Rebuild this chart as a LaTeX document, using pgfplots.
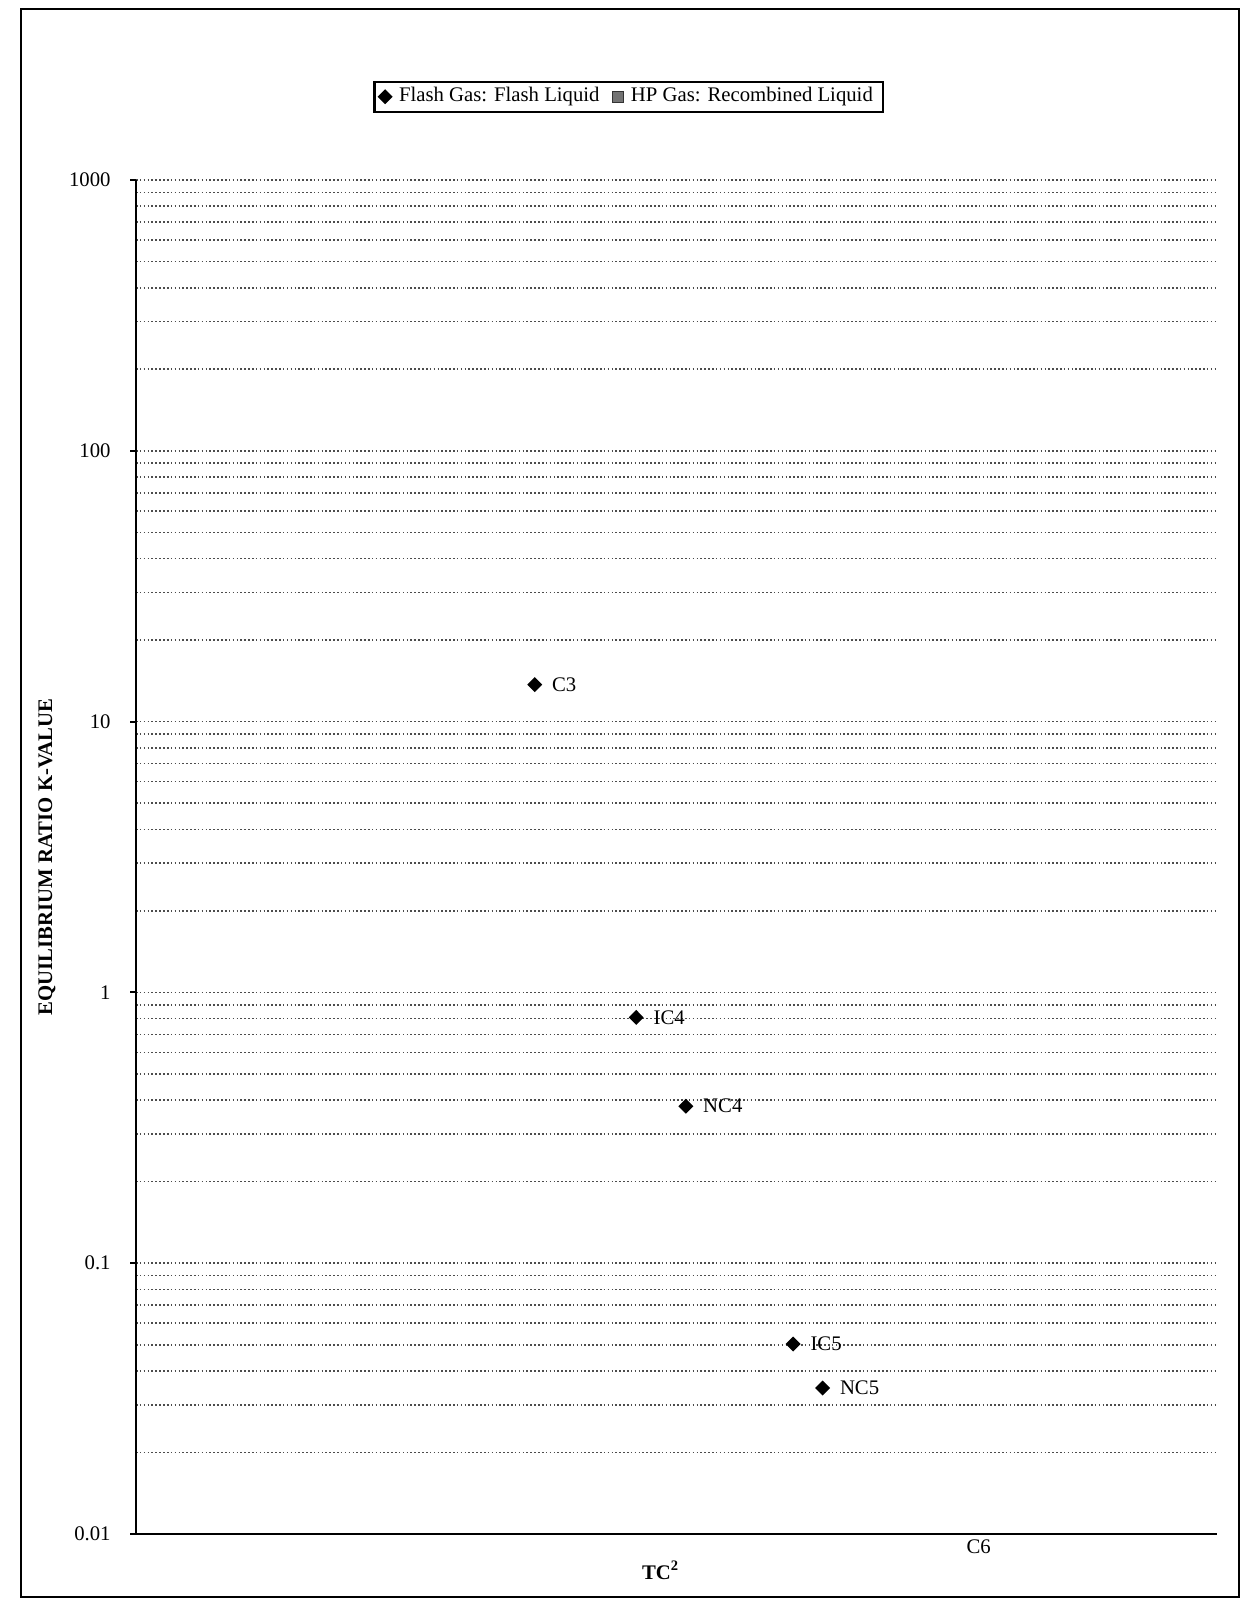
\documentclass[border=0pt]{standalone}
\usepackage{fontspec}
\setmainfont{Liberation Serif}
\usepackage{pgfplots}
\pgfplotsset{compat=1.18}
\begin{document}
\begin{tikzpicture}[font=\fontsize{5.9}{7}\selectfont]
\useasboundingbox (0,0) rectangle (124.1mm,160mm);
\draw[line width=0.8pt] (2.1mm,0.3mm) rectangle (123.9mm,159.1mm);
\begin{axis}[
  at={(13.6mm,6.6mm)}, anchor=south west,
  scale only axis, width=108.1mm, height=135.4mm,
  ymode=log, ymin=0.01, ymax=1000,
  xmin=67000, xmax=1086800,
  axis lines*=left,
  axis line style={line width=0.6pt, black},
  clip=false,
  xtick=\empty,
  ytick={0.01,0.1,1,10,100,1000},
  yticklabels={\textrm{0.01},\textrm{0.1},\textrm{1},\textrm{10},\textrm{100},\textrm{1000}},
  minor ytick={0.02,0.03,0.04,0.05,0.06,0.07,0.08,0.09,0.2,0.3,0.4,0.5,0.6,0.7,0.8,0.9,2,3,4,5,6,7,8,9,20,30,40,50,60,70,80,90,200,300,400,500,600,700,800,900},
  ymajorgrids, yminorgrids,
  major grid style={line width=0.45pt, black!70, dash pattern=on 0.45pt off 0.65pt},
  minor grid style={line width=0.45pt, black!70, dash pattern=on 0.45pt off 0.65pt},
  tick align=outside,
  major tick length=0.6mm, minor tick length=0pt,
  tick style={line width=0.6pt, black},
  yticklabel style={xshift=-0.7mm, font=\fontsize{5.9}{7}\selectfont},
  /pgf/number format/assume math mode=true,
  xlabel={\bfseries TC\textsuperscript{2}},
  xlabel style={at={(axis description cs:0.4857,-0.0266)}, anchor=center, font=\fontsize{5.9}{7}\selectfont},
  ylabel={\bfseries EQUILIBRIUM RATIO K-VALUE},
  ylabel style={at={(axis description cs:-0.0823,0.5)}, anchor=center, font=\fontsize{5.9}{7}\selectfont},
  legend columns=2,
  legend cell align=left,
  legend style={at={(axis description cs:0.456,1.0615)}, anchor=center, draw=black, line width=0.6pt,
    font=\fontsize{5.9}{7}\selectfont, inner xsep=1pt, inner ysep=0pt,
    nodes={inner ysep=1.5pt},
    /tikz/every even column/.append style={column sep=1.5pt}},
]
\addlegendimage{legend image code/.code={\fill[black] (0.75mm,0.6mm) -- (1.35mm,0mm) -- (0.75mm,-0.6mm) -- (0.15mm,0mm) -- cycle;}}
\addlegendentry{Flash Gas: Flash Liquid}
\addlegendimage{legend image code/.code={\draw[black!80, line width=0.3pt, fill=black!55] (0.2mm,-0.55mm) rectangle (1.3mm,0.55mm);}}
\addlegendentry{HP Gas: Recombined Liquid}

\addplot[forget plot, only marks, mark=diamond*, mark size=1.85pt,
  mark options={xscale=1.33, fill=black, draw=black},
  nodes near coords, point meta=explicit symbolic,
  nodes near coords style={anchor=west, xshift=0.5mm, font=\fontsize{5.9}{7}\selectfont, black}]
coordinates {
  (443156,13.7) [C3]
  (538903,0.808) [IC4]
  (585684,0.380) [NC4]
  (686909,0.0503) [IC5]
  (714701,0.0346) [NC5]
};
\addplot[forget plot, draw=none, mark=none,
  nodes near coords, point meta=explicit symbolic,
  nodes near coords style={anchor=west, xshift=0.5mm, font=\fontsize{5.9}{7}\selectfont, black}]
coordinates {
  (834117,0.009) [C6]
};
\end{axis}
\end{tikzpicture}
\end{document}
